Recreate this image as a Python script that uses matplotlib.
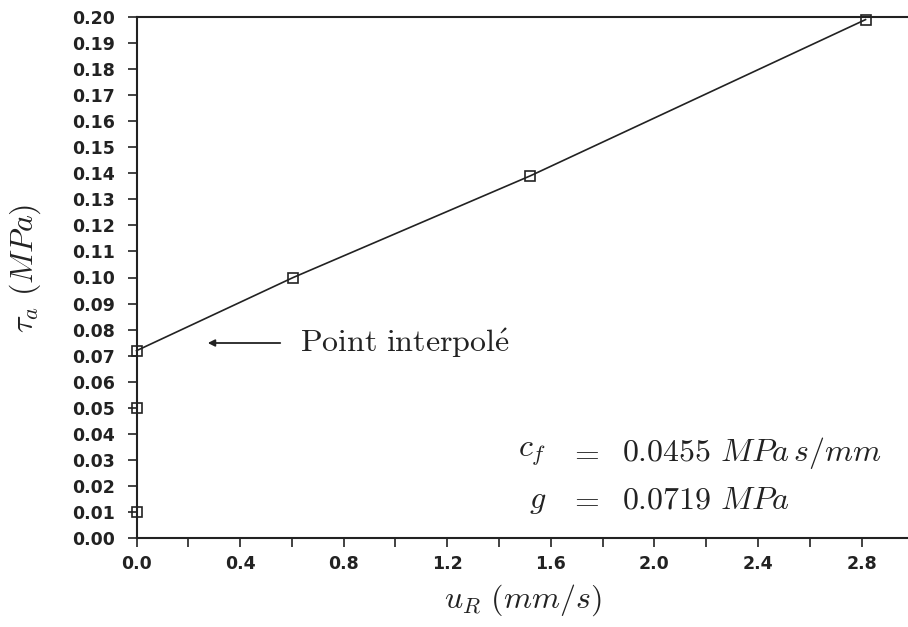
import numpy as np
import matplotlib
matplotlib.use("Agg")
import matplotlib.pyplot as plt
from matplotlib.ticker import MultipleLocator, FormatStrFormatter

plt.rcParams["mathtext.fontset"] = "cm"

# fitted branch (interpolated point at u=0 plus the three measured points)
u_fit = [0.0, 0.605, 1.52, 2.815]
tau_fit = [0.0719, 0.100, 0.139, 0.199]
# extra points measured at zero velocity
u_zero = [0.0, 0.0]
tau_zero = [0.01, 0.05]

CF_TEXT = [r"$c_f$", r"$=$", r"$0.0455\ MPa\,s/mm$"]
G_TEXT = [r"$g$", r"$=$", r"$0.0719\ MPa$"]
INK = "#222222"

W, H = 908, 627
fig = plt.figure(figsize=(W / 100, H / 100), dpi=100)
ax = fig.add_axes([136.5 / W, 1 - 538 / H, (W - 136.5) / W, (538 - 17) / H])

ax.plot(u_fit, tau_fit, color=INK, lw=1.2, marker="s", ms=6.5, mfc="none",
        mec=INK, mew=1.2, clip_on=False, zorder=3)
ax.plot(u_zero, tau_zero, ls="none", marker="s", ms=6.5, mfc="none",
        mec=INK, mew=1.2, clip_on=False, zorder=3)

ax.set_xlim(0, 2.979)
ax.set_ylim(0, 0.20)
ax.spines["right"].set_visible(False)
for s in ("left", "bottom", "top"):
    ax.spines[s].set_linewidth(1.5)
    ax.spines[s].set_color(INK)

ax.xaxis.set_major_locator(MultipleLocator(0.4))
ax.xaxis.set_minor_locator(MultipleLocator(0.2))
ax.yaxis.set_major_locator(MultipleLocator(0.01))
ax.xaxis.set_major_formatter(FormatStrFormatter("%.1f"))
ax.yaxis.set_major_formatter(FormatStrFormatter("%.2f"))
ax.tick_params(which="both", direction="out", length=6.5, width=1.2, color=INK)
ax.tick_params(axis="y", pad=9)
ax.tick_params(axis="x", pad=6)
for lab in ax.get_xticklabels() + ax.get_yticklabels():
    lab.set_fontweight("bold")
    lab.set_fontsize(12.5)
    lab.set_color(INK)

ax.set_xlabel(r"$u_R\ (mm/s)$", fontsize=23, color=INK)
ax.set_ylabel(r"$\tau_a\ (MPa)$", fontsize=23, color=INK)
ax.xaxis.set_label_coords(0.5, -0.085)
ax.yaxis.set_label_coords(-0.121, 0.518)

# arrow pointing at the interpolated point
ax.annotate("", xy=(205 / W, 1 - 343 / H), xytext=(283 / W, 1 - 343 / H),
            xycoords="figure fraction", textcoords="figure fraction",
            arrowprops=dict(arrowstyle="-|>", color=INK, lw=1.3,
                            mutation_scale=10))
fig.text(300 / W, 1 - 343 / H, r"$\mathrm{Point\ interpol\acute{e}}$",
         fontsize=23, color=INK, va="center", ha="left")

for row, y in ((CF_TEXT, 453), (G_TEXT, 500)):
    fig.text(546 / W, 1 - y / H, row[0], fontsize=23, color=INK,
             ha="right", va="center")
    fig.text(584 / W, 1 - y / H, row[1], fontsize=23, color=INK,
             ha="center", va="center")
    fig.text(622 / W, 1 - y / H, row[2], fontsize=23, color=INK,
             ha="left", va="center")

fig.savefig("out.png", dpi=100)
